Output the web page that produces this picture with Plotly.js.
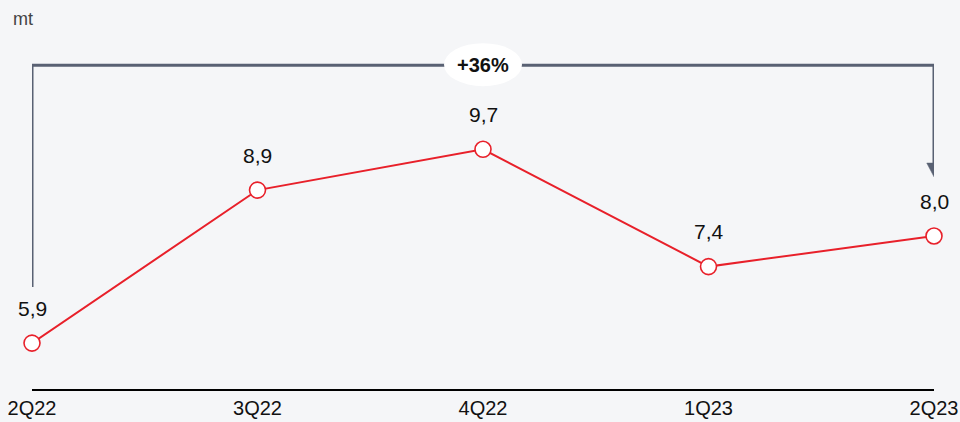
<!DOCTYPE html>
<html>
<head>
<meta charset="utf-8">
<script src="https://cdn.plot.ly/plotly-3.0.1.min.js"></script>
<style>
  html, body { margin: 0; padding: 0; background: #f5f6f8; }
  #chart { width: 960px; height: 422px; }
</style>
</head>
<body>
<div id="chart"></div>
<script>
const categories = ["2Q22", "3Q22", "4Q22", "1Q23", "2Q23"];
const values = [5.9, 8.9, 9.7, 7.4, 8.0];
const unitLabel = "mt";
const changeLabel = "+36%";

const RED = "#e8202a";
const GREY = "#596173";
const FONT = "Liberation Sans, Arial, sans-serif";

const fmt = v => v.toFixed(1).replace(".", ",");

const trace = {
  type: "scatter",
  mode: "lines+markers",
  x: categories,
  y: values,
  line: { color: RED, width: 2 },
  marker: { size: 16, color: "#ffffff", line: { color: RED, width: 1.6 } },
  cliponaxis: false,
  hoverinfo: "skip"
};

const bracketTop = 11.35;
const leftStart = 7.0;
const arrowBase = 9.43;
const arrowTip = 9.16;
const lastIdx = categories.length - 1;
const midIdx = (categories.length - 1) / 2;

const annotations = values.map((v, i) => ({
  x: i, y: v, xref: "x", yref: "y",
  text: fmt(v), showarrow: false, yshift: 35,
  font: { family: FONT, size: 21, color: "#111111" }
}));
annotations.push({
  x: midIdx, y: bracketTop, xref: "x", yref: "y",
  text: "<b>" + changeLabel + "</b>", showarrow: false, yshift: 0,
  font: { family: FONT, size: 20, color: "#111111" }
});
annotations.push({
  x: 0, y: 1, xref: "paper", yref: "paper",
  xanchor: "left", yanchor: "middle", xshift: -21, yshift: 13,
  text: unitLabel, showarrow: false,
  font: { family: FONT, size: 18, color: "#444444" }
});

const shapes = [
  { type: "line", xref: "x", yref: "y", x0: 0, x1: 0, y0: leftStart, y1: bracketTop,
    line: { color: GREY, width: 3 } },
  { type: "line", xref: "x", yref: "y", x0: 0, x1: lastIdx, y0: bracketTop, y1: bracketTop,
    line: { color: GREY, width: 3 } },
  { type: "line", xref: "x", yref: "y", x0: lastIdx, x1: lastIdx, y0: bracketTop, y1: arrowBase,
    line: { color: GREY, width: 3 } },
  { type: "path", xref: "x", yref: "y",
    path: `M ${lastIdx - 0.032},${arrowBase} L ${lastIdx + 0.032},${arrowBase} L ${lastIdx},${arrowTip} Z`,
    fillcolor: GREY, line: { color: GREY, width: 0.5 } },
  { type: "circle", xref: "x", yref: "y", xsizemode: "pixel", ysizemode: "pixel",
    xanchor: midIdx, yanchor: bracketTop, x0: -39, x1: 39, y0: -21, y1: 22,
    fillcolor: "#ffffff", line: { width: 0 } }
];

const layout = {
  width: 960, height: 422,
  margin: { l: 32, r: 26, t: 32, b: 33 },
  paper_bgcolor: "#f5f6f8",
  plot_bgcolor: "#f5f6f8",
  showlegend: false,
  xaxis: {
    type: "category",
    range: [0, lastIdx],
    showgrid: false, zeroline: false,
    showline: true, linecolor: "#000000", linewidth: 2,
    ticks: "",
    tickfont: { family: FONT, size: 20, color: "#111111" },
    fixedrange: true
  },
  yaxis: {
    range: [5, 12],
    visible: false,
    fixedrange: true
  },
  annotations: annotations,
  shapes: shapes
};

Plotly.newPlot("chart", [trace], layout, { displayModeBar: false, staticPlot: true });
</script>
</body>
</html>
